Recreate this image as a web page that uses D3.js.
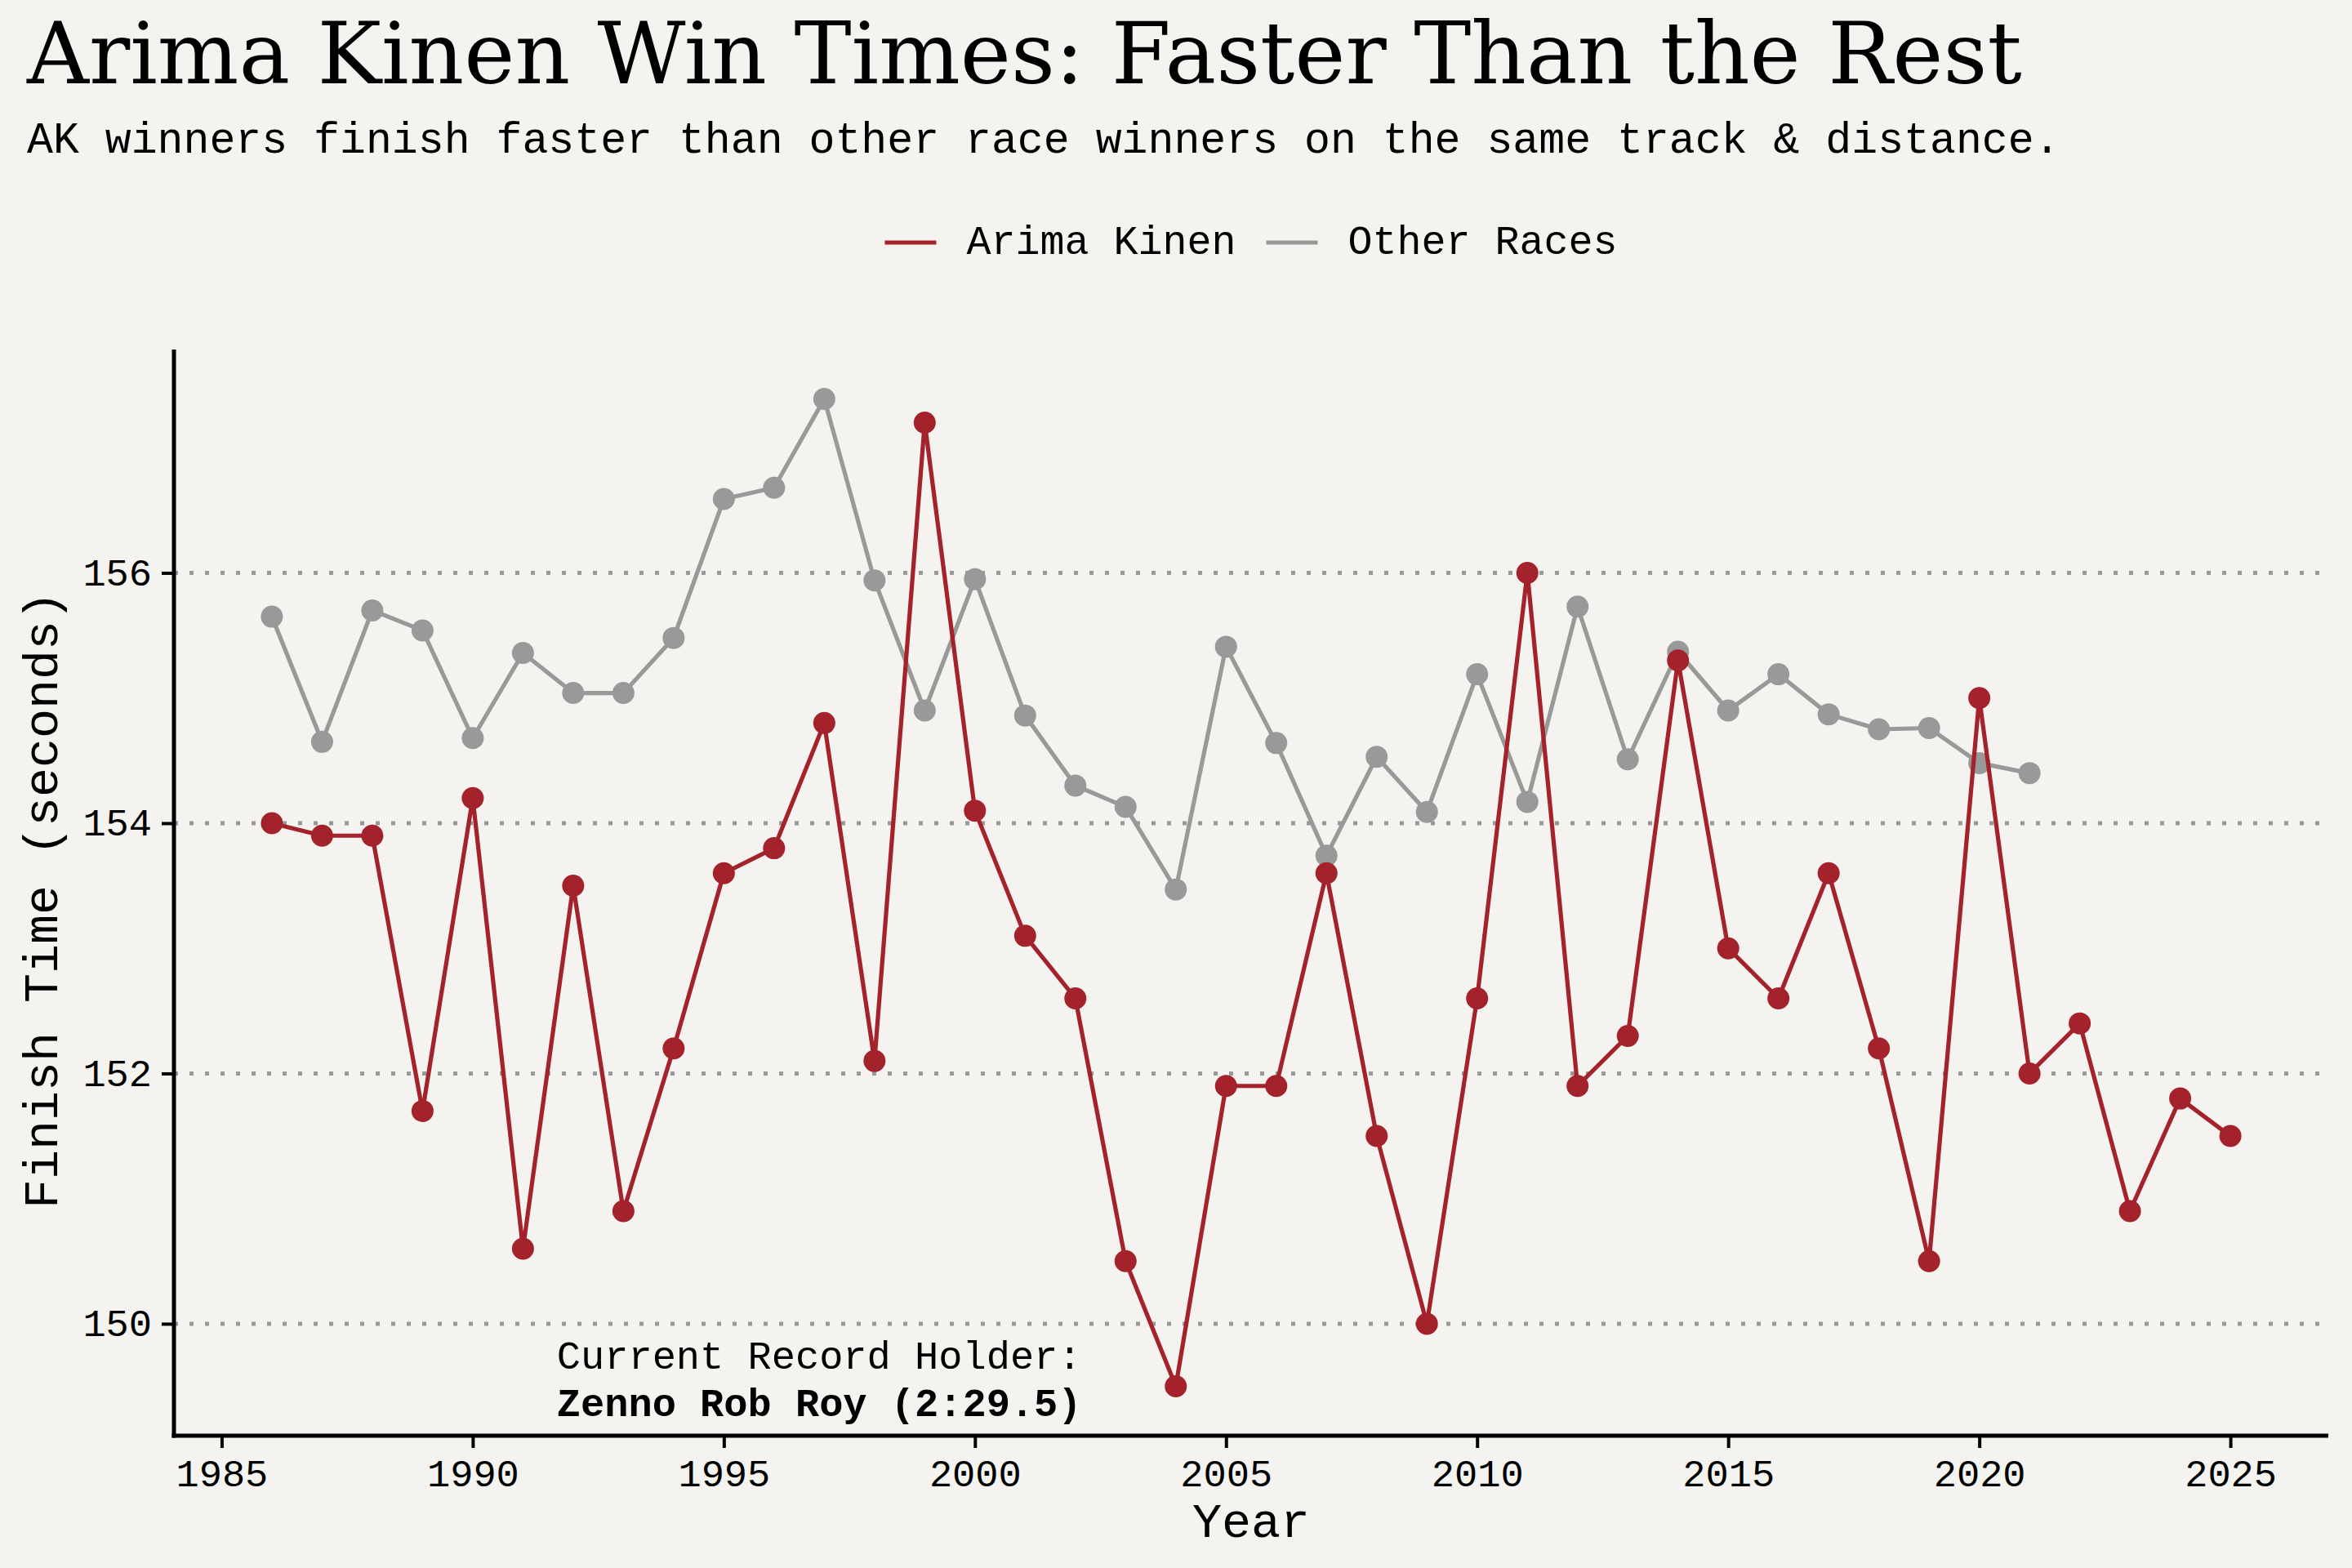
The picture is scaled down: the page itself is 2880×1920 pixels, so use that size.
<!DOCTYPE html>
<html>
<head>
<meta charset="utf-8">
<script src="https://cdn.jsdelivr.net/npm/d3@7"></script>
<style>
  html, body { margin: 0; padding: 0; background: #f4f3ef; }
  svg { display: block; }
</style>
</head>
<body>
<svg id="chart" width="2880" height="1920"></svg>
<script>
// ---- Data ----
const akYears = d3.range(1986, 2026);
const akTimes = [154.0, 153.9, 153.9, 151.7, 154.2, 150.6, 153.5, 150.9, 152.2, 153.6,
                 153.8, 154.8, 152.1, 157.2, 154.1, 153.1, 152.6, 150.5, 149.5, 151.9,
                 151.9, 153.6, 151.5, 150.0, 152.6, 156.0, 151.9, 152.3, 155.3, 153.0,
                 152.6, 153.6, 152.2, 150.5, 155.0, 152.0, 152.4, 150.9, 151.8, 151.5];
const otherYears = d3.range(1986, 2022);
const otherTimes = [155.65, 154.65, 155.70, 155.54, 154.68, 155.36, 155.04, 155.04, 155.48, 156.59,
                    156.68, 157.39, 155.94, 154.90, 155.95, 154.86, 154.30, 154.13, 153.47, 155.41,
                    154.64, 153.74, 154.53, 154.09, 155.19, 154.17, 155.73, 154.51, 155.37, 154.90,
                    155.19, 154.87, 154.75, 154.76, 154.48, 154.40];
const xTicks = [1985, 1990, 1995, 2000, 2005, 2010, 2015, 2020, 2025];
const yTicks = [150, 152, 154, 156];
const seriesNames = ["Arima Kinen", "Other Races"];
const seriesColors = ["#a3222b", "#999999"];
const titleText = "Arima Kinen Win Times: Faster Than the Rest";
const subtitleText = "AK winners finish faster than other race winners on the same track & distance.";
const annotationLines = ["Current Record Holder:", "Zenno Rob Roy (2:29.5)"];

(function () {
// ---- Layout ----
const svg = d3.select("#chart");
const W = 2880, H = 1920;
const pLeft = 213, pRight = 2851, pTop = 428, pBottom = 1758;
const mono = "'Liberation Mono', 'DejaVu Sans Mono', monospace";
const serif = "'DejaVu Serif', 'Liberation Serif', serif";

svg.append("rect").attr("width", W).attr("height", H).attr("fill", "#f4f3ef");

const ak = akYears.map((yr, i) => ({ x: yr, y: akTimes[i] }));
const other = otherYears.map((yr, i) => ({ x: yr, y: otherTimes[i] }));

const allX = akYears.concat(otherYears);
const allY = akTimes.concat(otherTimes);
const [xMin, xMax] = d3.extent(allX);
const [yMin, yMax] = d3.extent(allY);
const xm = (xMax - xMin) * 0.05, ym = (yMax - yMin) * 0.05;

const x = d3.scaleLinear().domain([xMin - xm, xMax + xm]).range([pLeft, pRight]);
const y = d3.scaleLinear().domain([yMin - ym, yMax + ym]).range([pBottom, pTop]);

// Gridlines
svg.append("g").selectAll("line").data(yTicks).join("line")
  .attr("x1", pLeft).attr("x2", pRight)
  .attr("y1", d => y(d)).attr("y2", d => y(d))
  .attr("stroke", "#999999").attr("stroke-width", 5)
  .attr("stroke-dasharray", "5,14");

// Lines + markers
const lineGen = d3.line().x(d => x(d.x)).y(d => y(d.y));
const series = [ {data: other, color: seriesColors[1]}, {data: ak, color: seriesColors[0]} ];
series.forEach(s => {
  svg.append("path").datum(s.data)
    .attr("d", lineGen).attr("fill", "none")
    .attr("stroke", s.color).attr("stroke-width", 5.2)
    .attr("stroke-linejoin", "round");
  svg.append("g").selectAll("circle").data(s.data).join("circle")
    .attr("cx", d => x(d.x)).attr("cy", d => y(d.y)).attr("r", 13.5)
    .attr("fill", s.color);
});

// Axes
const xAxis = d3.axisBottom(x).tickValues(xTicks).tickFormat(d3.format("d"))
  .tickSize(15).tickPadding(14).tickSizeOuter(0);
const yAxis = d3.axisLeft(y).tickValues(yTicks).tickFormat(d3.format("d"))
  .tickSize(15).tickPadding(12).tickSizeOuter(0);

const gx = svg.append("g").attr("transform", `translate(0,${pBottom})`).call(xAxis);
const gy = svg.append("g").attr("transform", `translate(${pLeft},0)`).call(yAxis);
[gx, gy].forEach(g => {
  g.select(".domain").remove();
  g.selectAll(".tick line").attr("stroke", "#000").attr("stroke-width", 4);
  g.selectAll(".tick text").attr("fill", "#000")
    .style("font-family", mono).style("font-size", "47px");
});
// Spines
svg.append("line").attr("x1", pLeft).attr("x2", pLeft).attr("y1", pTop).attr("y2", pBottom + 2.5)
  .attr("stroke", "#000").attr("stroke-width", 5);
svg.append("line").attr("x1", pLeft - 2.5).attr("x2", pRight).attr("y1", pBottom).attr("y2", pBottom)
  .attr("stroke", "#000").attr("stroke-width", 5);

// Axis titles
svg.append("text").text("Year")
  .attr("x", (pLeft + pRight) / 2).attr("y", 1882)
  .attr("text-anchor", "middle").attr("fill", "#000")
  .style("font-family", mono).style("font-size", "60px");
svg.append("text").text("Finish Time (seconds)")
  .attr("transform", `translate(70,${(pTop + pBottom) / 2 + 9}) rotate(-90)`)
  .attr("text-anchor", "middle").attr("fill", "#000")
  .style("font-family", mono).style("font-size", "60px");

// Title + subtitle
const title = svg.append("text").text(titleText)
  .attr("x", 33).attr("y", 102).attr("fill", "#000")
  .style("font-family", serif).style("font-size", "100px");
const tw = title.node().getComputedTextLength();
title.style("font-size", (100 * 2443 / tw) + "px");

svg.append("text").text(subtitleText)
  .attr("x", 33).attr("y", 187).attr("fill", "#000")
  .style("font-family", mono).style("font-size", "53.2px");

// Legend
const legY = 297;
const leg = svg.append("g");
let cx = 0;
seriesNames.forEach((name, i) => {
  leg.append("line").attr("x1", cx).attr("x2", cx + 63).attr("y1", legY).attr("y2", legY)
    .attr("stroke", seriesColors[i]).attr("stroke-width", 5.2);
  cx += 63 + 37;
  const t = leg.append("text").text(name).attr("x", cx).attr("y", legY)
    .attr("dominant-baseline", "central").attr("fill", "#000")
    .style("font-family", mono).style("font-size", "50px");
  cx += t.node().getComputedTextLength() + 37;
});
const legW = cx - 37;
leg.attr("transform", `translate(${(pLeft + pRight) / 2 - legW / 2},0)`);

// Annotation
const ax = x(1996.9), ay = y(149.64);
svg.append("text").text(annotationLines[0])
  .attr("x", ax).attr("y", ay).attr("text-anchor", "middle").attr("fill", "#000")
  .style("font-family", mono).style("font-size", "48.7px");
svg.append("text").text(annotationLines[1])
  .attr("x", ax).attr("y", ay + 58).attr("text-anchor", "middle").attr("fill", "#000")
  .style("font-family", mono).style("font-size", "48.7px").style("font-weight", "bold");
})();
</script>
</body>
</html>
